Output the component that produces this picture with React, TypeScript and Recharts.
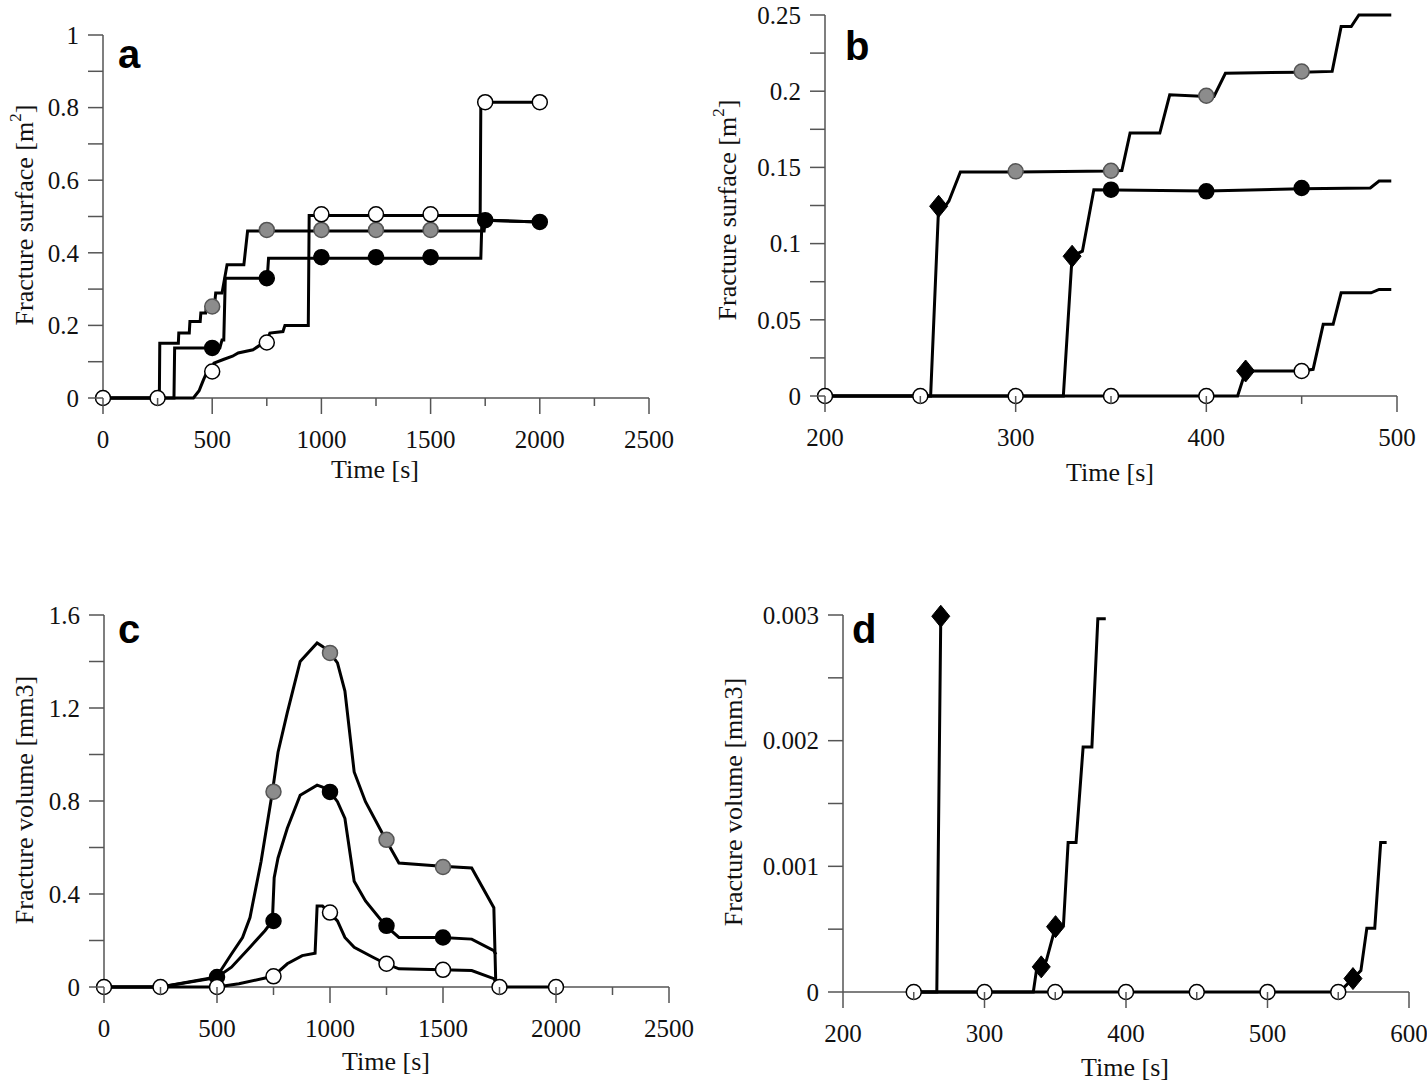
import { LineChart, Line, XAxis, YAxis } from "recharts";

type Pt = [number, number];

// ---- panel a: fracture surface over the whole run ----
const aTicksX = [0, 250, 500, 750, 1000, 1250, 1500, 1750, 2000, 2250, 2500];
const aTicksY = [0, 0.1, 0.2, 0.3, 0.4, 0.5, 0.6, 0.7, 0.8, 0.9, 1];
const aGray: Pt[] = [
  [0, 0], [258, 0], [260, 0.151], [345, 0.151], [347, 0.179], [395, 0.179], [398, 0.211],
  [445, 0.211], [448, 0.234], [470, 0.234], [474, 0.252], [510, 0.252], [516, 0.289],
  [545, 0.289], [568, 0.367], [645, 0.367], [662, 0.46], [1745, 0.46], [1750, 0.49], [2000, 0.485],
];
const aBlack: Pt[] = [
  [0, 0], [325, 0], [328, 0.138], [535, 0.138], [545, 0.16], [553, 0.16], [560, 0.33],
  [752, 0.33], [758, 0.385], [1730, 0.385], [1735, 0.49], [2000, 0.485],
];
const aWhite: Pt[] = [
  [0, 0], [414, 0], [440, 0.02], [448, 0.032], [460, 0.05], [474, 0.069], [496, 0.073],
  [508, 0.096], [551, 0.106], [593, 0.115], [619, 0.124], [687, 0.133], [722, 0.147],
  [747, 0.153], [764, 0.179], [824, 0.183], [833, 0.2], [940, 0.2], [944, 0.503],
  [1727, 0.503], [1730, 0.815], [2000, 0.815],
];
const aGrayMarks: Pt[] = [[500, 0.252], [750, 0.463], [1000, 0.463], [1250, 0.463], [1500, 0.463]];
const aBlackMarks: Pt[] = [[500, 0.138], [750, 0.33], [1000, 0.388], [1250, 0.388], [1500, 0.388], [1750, 0.49], [2000, 0.485]];
const aWhiteMarks: Pt[] = [[0, 0], [250, 0], [500, 0.073], [750, 0.153], [1000, 0.506], [1250, 0.506], [1500, 0.506], [1750, 0.815], [2000, 0.815]];

// ---- panel b: fracture surface, zoom on 200-500 s ----
const bTicksX = [200, 250, 300, 350, 400, 450, 500];
const bTicksY = [0, 0.025, 0.05, 0.075, 0.1, 0.125, 0.15, 0.175, 0.2, 0.225, 0.25];
const bTop: Pt[] = [
  [200, 0], [255.4, 0], [259.6, 0.1245], [263, 0.1245], [265, 0.128], [271, 0.147],
  [300, 0.147], [350, 0.1476], [355.7, 0.148], [360, 0.1725], [375.6, 0.1725], [380.8, 0.1976],
  [400, 0.1966], [404, 0.1966], [410, 0.2118], [450, 0.2125], [466, 0.213], [470.7, 0.2424],
  [476, 0.2424], [480, 0.25], [497, 0.25],
];
const bMid: Pt[] = [
  [200, 0], [325, 0], [329.6, 0.0917], [335, 0.095], [341, 0.1354], [400, 0.1345],
  [450, 0.136], [486, 0.1365], [490.6, 0.141], [497, 0.141],
];
const bLow: Pt[] = [
  [200, 0], [416.4, 0], [420.6, 0.0164], [450, 0.0164], [456, 0.0175], [461.3, 0.047],
  [466.5, 0.047], [470.7, 0.0677], [486.4, 0.0677], [490.6, 0.0699], [497, 0.0699],
];
const bGrayMarks: Pt[] = [[300, 0.1474], [350, 0.1478], [400, 0.197], [450, 0.2129]];
const bBlackMarks: Pt[] = [[350, 0.1354], [400, 0.1343], [450, 0.1365]];
const bWhiteMarks: Pt[] = [[200, 0], [250, 0], [300, 0], [350, 0], [400, 0], [450, 0.0164]];
const bDiamonds: Pt[] = [[259.6, 0.1245], [329.6, 0.0917], [420.6, 0.0164]];

// ---- panel c: fracture volume over the whole run ----
const cTicksX = aTicksX;
const cTicksY = [0, 0.2, 0.4, 0.6, 0.8, 1, 1.2, 1.4, 1.6];
const cGray: Pt[] = [
  [0, 0], [250, 0], [498, 0.043], [564, 0.142], [613, 0.213], [646, 0.299], [695, 0.54],
  [745, 0.839], [770, 1.01], [811, 1.18], [868, 1.4], [943, 1.48], [967, 1.465],
  [1000, 1.437], [1033, 1.394], [1066, 1.273], [1107, 0.925], [1157, 0.797], [1247, 0.633],
  [1305, 0.533], [1495, 0.519], [1627, 0.512], [1725, 0.341], [1734, 0],
];
const cBlack: Pt[] = [
  [0, 0], [250, 0], [498, 0.04], [564, 0.085], [646, 0.171], [712, 0.242], [745, 0.284],
  [753, 0.47], [770, 0.555], [811, 0.683], [868, 0.825], [943, 0.868], [967, 0.86],
  [1000, 0.839], [1033, 0.797], [1066, 0.725], [1107, 0.455], [1157, 0.37], [1247, 0.263],
  [1305, 0.213], [1495, 0.213], [1627, 0.206], [1725, 0.156], [1734, 0.14],
];
const cWhite: Pt[] = [
  [0, 0], [498, 0], [597, 0.014], [748, 0.046], [811, 0.1], [877, 0.135], [934, 0.145],
  [943, 0.348], [967, 0.348], [997, 0.32], [1033, 0.284], [1066, 0.213], [1107, 0.171],
  [1190, 0.128], [1247, 0.1], [1305, 0.078], [1495, 0.074], [1627, 0.071], [1725, 0.036],
  [1747, 0], [2000, 0],
];
const cGrayMarks: Pt[] = [[750, 0.84], [1000, 1.437], [1250, 0.633], [1500, 0.516]];
const cBlackMarks: Pt[] = [[500, 0.043], [750, 0.284], [1000, 0.839], [1250, 0.263], [1500, 0.213]];
const cWhiteMarks: Pt[] = [[0, 0], [250, 0], [500, 0], [750, 0.046], [1000, 0.32], [1250, 0.1], [1500, 0.074], [1750, 0], [2000, 0]];

// ---- panel d: fracture volume, zoom on 200-600 s ----
const dTicksX = [200, 250, 300, 350, 400, 450, 500, 550, 600];
const dTicksY = [0, 0.0005, 0.001, 0.0015, 0.002, 0.0025, 0.003];
const dFirst: Pt[] = [[250, 0], [266.3, 0], [269.1, 0.00299]];
const dSecond: Pt[] = [
  [250, 0], [334.5, 0], [336.7, 0.00017], [340.1, 0.0002], [343.7, 0.00025], [350.2, 0.00052],
  [355.8, 0.000533], [359.1, 0.00119], [364.7, 0.00119], [369.7, 0.00195], [375.9, 0.00195],
  [380.1, 0.00297], [385.7, 0.00297],
];
const dThird: Pt[] = [
  [250, 0], [550.7, 0], [560.4, 0.000107], [566, 0.00017], [570.2, 0.000507],
  [575.8, 0.000507], [580, 0.00119], [584.2, 0.00119],
];
const dWhiteMarks: Pt[] = [[250, 0], [300, 0], [350, 0], [400, 0], [450, 0], [500, 0], [550, 0]];
const dDiamonds: Pt[] = [[269.1, 0.00299], [340.1, 0.0002], [350.2, 0.00052], [560.4, 0.000107]];

const SERIF = "'Liberation Serif', 'Times New Roman', serif";
const AXIS = "#555";
const INK = "#111";

const toRows = (pts: Pt[]) => pts.map(([t, v]) => ({ t, v }));
const isMajor = (v: number, start: number, step: number) => {
  const k = (v - start) / step;
  return Math.abs(k - Math.round(k)) < 1e-6;
};
const fmt = (v: number) => String(parseFloat(v.toFixed(4)));

function XTick(props: any) {
  const { x, y, payload, start, step } = props;
  const major = isMajor(payload.value, start, step);
  return (
    <g>
      <line x1={x} y1={y} x2={x} y2={y + (major ? 16 : 8)} stroke={AXIS} strokeWidth={1.5} />
      {major && (
        <text x={x} y={y + 50} textAnchor="middle" fontFamily={SERIF} fontSize={25} fill={INK}>
          {fmt(payload.value)}
        </text>
      )}
    </g>
  );
}

function YTick(props: any) {
  const { x, y, payload, step } = props;
  const major = isMajor(payload.value, 0, step);
  return (
    <g>
      <line x1={x - 15} y1={y} x2={x} y2={y} stroke={AXIS} strokeWidth={1.5} />
      {major && (
        <text x={x - 24} y={y} dy="0.35em" textAnchor="end" fontFamily={SERIF} fontSize={25} fill={INK}>
          {fmt(payload.value)}
        </text>
      )}
    </g>
  );
}

function XTitle({ cx, cy }: any) {
  return (
    <text x={cx} y={cy} textAnchor="middle" fontFamily={SERIF} fontSize={26} fill={INK}>
      Time [s]
    </text>
  );
}

function YTitle({ cx, cy, text, unit, sup }: any) {
  return (
    <text x={cx} y={cy} transform={`rotate(-90 ${cx} ${cy})`} textAnchor="middle" dominantBaseline="central"
      fontFamily={SERIF} fontSize={26} fill={INK}>
      {text} [{unit}
      {sup && <tspan dy={-9} fontSize={17}>{sup}</tspan>}
      {sup ? <tspan dy={9}>]</tspan> : "]"}
    </text>
  );
}

function Marker(props: any) {
  const { cx, cy, kind, index } = props;
  if (cx == null || cy == null) return <g key={`m-${index}`} />;
  if (kind === "diamond") {
    return (
      <polygon key={`m-${index}`} points={`${cx},${cy - 11} ${cx + 9},${cy} ${cx},${cy + 11} ${cx - 9},${cy}`}
        fill="#000" stroke="#000" strokeWidth={1} />
    );
  }
  const fill = kind === "gray" ? "#8c8c8c" : kind === "black" ? "#000" : "#fff";
  return (
    <circle key={`m-${index}`} cx={cx} cy={cy} r={7.5} fill={fill}
      stroke={kind === "gray" ? "#555" : "#000"} strokeWidth={1.5} />
  );
}

interface PanelProps {
  left: number;
  top: number;
  width: number;
  height: number;
  plot: { left: number; top: number; right: number; bottom: number };
  xDomain: [number, number];
  yDomain: [number, number];
  xTicks: number[];
  yTicks: number[];
  xStart: number;
  xStep: number;
  yStep: number;
  lines: Pt[][];
  marks: { pts: Pt[]; kind: string }[];
  xTitle: [number, number];
  yTitle: { cx: number; cy: number; text: string; unit: string; sup?: string };
  letter: { ch: string; x: number; y: number };
}

function Panel(p: PanelProps) {
  return (
    <div style={{ position: "absolute", left: p.left, top: p.top, width: p.width, height: p.height }}>
      <LineChart width={p.width} height={p.height}
        margin={{ top: p.plot.top, right: p.width - p.plot.right, left: 0, bottom: 0 }}>
        <XAxis type="number" dataKey="t" domain={p.xDomain} ticks={p.xTicks} interval={0}
          tickSize={0} tickMargin={0} tickLine={false}
          axisLine={{ stroke: AXIS, strokeWidth: 1.5 }} height={p.height - p.plot.bottom}
          tick={(tp: any) => <XTick {...tp} start={p.xStart} step={p.xStep} />}
          label={<XTitle cx={p.xTitle[0]} cy={p.xTitle[1]} />} />
        <YAxis type="number" domain={p.yDomain} ticks={p.yTicks} interval={0}
          tickSize={0} tickMargin={0} tickLine={false}
          axisLine={{ stroke: AXIS, strokeWidth: 1.5 }} width={p.plot.left}
          tick={(tp: any) => <YTick {...tp} step={p.yStep} />}
          label={<YTitle {...p.yTitle} />} />
        {p.lines.map((pts, i) => (
          <Line key={`l-${i}`} data={toRows(pts)} dataKey="v" type="linear" stroke="#000"
            strokeWidth={3} dot={false} activeDot={false} isAnimationActive={false}
            {...({ zIndex: 600 } as any)} />
        ))}
        {p.marks.map((m, i) => (
          <Line key={`k-${i}`} data={toRows(m.pts)} dataKey="v" stroke="none" activeDot={false}
            isAnimationActive={false} {...({ zIndex: 700 } as any)}
            dot={(dp: any) => <Marker {...dp} key={`${m.kind}-${dp.index}`} kind={m.kind} />} />
        ))}
      </LineChart>
      <div style={{ position: "absolute", left: p.letter.x, top: p.letter.y, fontFamily: "'Liberation Sans', Arial, sans-serif",
        fontWeight: "bold", fontSize: 40, lineHeight: "40px", color: "#000" }}>
        {p.letter.ch}
      </div>
    </div>
  );
}

export default function App() {
  return (
    <div style={{ position: "absolute", left: 0, top: 0, width: 1427, height: 1087, background: "#fff" }}>
      <Panel left={0} top={0} width={710} height={500}
        plot={{ left: 103, top: 35, right: 649, bottom: 398 }}
        xDomain={[0, 2500]} yDomain={[0, 1]} xTicks={aTicksX} yTicks={aTicksY}
        xStart={0} xStep={500} yStep={0.2}
        lines={[aWhite, aGray, aBlack]}
        marks={[{ pts: aGrayMarks, kind: "gray" }, { pts: aBlackMarks, kind: "black" }, { pts: aWhiteMarks, kind: "white" }]}
        xTitle={[375, 478]}
        yTitle={{ cx: 24, cy: 215, text: "Fracture surface", unit: "m", sup: "2" }}
        letter={{ ch: "a", x: 118, y: 34 }} />
      <Panel left={710} top={0} width={717} height={500}
        plot={{ left: 115, top: 15, right: 687, bottom: 396 }}
        xDomain={[200, 500]} yDomain={[0, 0.25]} xTicks={bTicksX} yTicks={bTicksY}
        xStart={200} xStep={100} yStep={0.05}
        lines={[bTop, bMid, bLow]}
        marks={[{ pts: bGrayMarks, kind: "gray" }, { pts: bBlackMarks, kind: "black" }, { pts: bWhiteMarks, kind: "white" }, { pts: bDiamonds, kind: "diamond" }]}
        xTitle={[400, 481]}
        yTitle={{ cx: 17, cy: 210, text: "Fracture surface", unit: "m", sup: "2" }}
        letter={{ ch: "b", x: 135, y: 26 }} />
      <Panel left={0} top={540} width={710} height={547}
        plot={{ left: 104, top: 75, right: 669, bottom: 447 }}
        xDomain={[0, 2500]} yDomain={[0, 1.6]} xTicks={cTicksX} yTicks={cTicksY}
        xStart={0} xStep={500} yStep={0.4}
        lines={[cGray, cBlack, cWhite]}
        marks={[{ pts: cGrayMarks, kind: "gray" }, { pts: cBlackMarks, kind: "black" }, { pts: cWhiteMarks, kind: "white" }]}
        xTitle={[386, 530]}
        yTitle={{ cx: 24, cy: 260, text: "Fracture volume", unit: "mm3" }}
        letter={{ ch: "c", x: 118, y: 69 }} />
      <Panel left={710} top={540} width={717} height={547}
        plot={{ left: 133, top: 75, right: 699, bottom: 452 }}
        xDomain={[200, 600]} yDomain={[0, 0.003]} xTicks={dTicksX} yTicks={dTicksY}
        xStart={200} xStep={100} yStep={0.001}
        lines={[dFirst, dSecond, dThird]}
        marks={[{ pts: dWhiteMarks, kind: "white" }, { pts: dDiamonds, kind: "diamond" }]}
        xTitle={[415, 536]}
        yTitle={{ cx: 23, cy: 262, text: "Fracture volume", unit: "mm3" }}
        letter={{ ch: "d", x: 142, y: 69 }} />
    </div>
  );
}
